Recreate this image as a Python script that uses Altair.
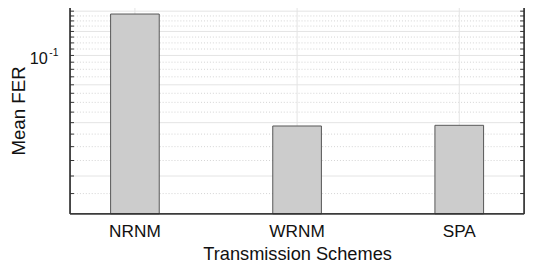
import altair as alt
import pandas as pd

# ---- data ----
schemes = ["NRNM", "WRNM", "SPA"]
mean_fer = [0.137, 0.0585, 0.0588]

major_ticks = [0.04, 0.06, 0.08, 0.10, 0.12, 0.14]
minor_ticks = [0.035, 0.045, 0.05, 0.055, 0.065, 0.07, 0.075, 0.085, 0.09, 0.095,
               0.105, 0.11, 0.115, 0.125, 0.13, 0.135, 0.145]
all_ticks = sorted(major_ticks + minor_ticks)
y_domain = [0.03, 0.15]
label_value = [0.1]
label_base = ["10"]
label_exp = ["-1"]

W, H = 461, 215
FONT = "Liberation Sans"
INK = "#111111"

bars_df = pd.DataFrame({"scheme": schemes, "fer": mean_fer})
major_df = pd.DataFrame({"v": major_ticks})
minor_df = pd.DataFrame({"v": minor_ticks})
ticks_df = pd.DataFrame({"v": all_ticks})
lab_df = pd.DataFrame({"v": label_value, "base": label_base, "exp": label_exp})

xscale = alt.Scale(domain=schemes, paddingInner=0.7, paddingOuter=0.25)
yscale = alt.Scale(type="log", domain=y_domain, nice=False, zero=False, clamp=True)

x_axis = alt.Axis(title="Transmission Schemes", labelAngle=0, ticks=False,
                  domain=False, grid=False, labelFontSize=17.5, bandPosition=0.5,
                  labelColor=INK, labelPadding=9, titleFontSize=18.5,
                  titleFontWeight="normal", titleColor=INK,
                  titlePadding=5, labelFont=FONT, titleFont=FONT)
y_axis = alt.Axis(title="Mean FER", labels=False, ticks=False, domain=False, grid=False,
                  titleFontSize=19, titleFontWeight="normal", titleColor=INK,
                  titleFont=FONT, titleX=-52.5, titleY=110, titleAngle=270,
                  titleAlign="center", titleBaseline="middle")


def X():
    return alt.X("scheme:N", scale=xscale, sort=schemes, axis=x_axis)


def Y(field):
    return alt.Y(field, scale=yscale, axis=y_axis)


minor_grid = alt.Chart(minor_df).mark_rule(color="#c8c8c8", strokeWidth=0.8,
                                           strokeDash=[1, 2]).encode(y=Y("v:Q"))
major_grid = alt.Chart(major_df).mark_rule(color="#e4e4e4", strokeWidth=1).encode(
    y=Y("v:Q"))
vgrid = alt.Chart(bars_df).mark_rule(color="#e4e4e4", strokeWidth=1).encode(x=X())

bars = alt.Chart(bars_df).mark_bar(fill="#cccccc", stroke="#555555",
                                   strokeWidth=1).encode(x=X(), y=Y("fer:Q"))

left_ticks = alt.Chart(ticks_df).mark_rule(color="#333333", strokeWidth=1).encode(
    y=Y("v:Q"), x=alt.value(0), x2=alt.value(4))
right_ticks = alt.Chart(ticks_df).mark_rule(color="#333333", strokeWidth=1).encode(
    y=Y("v:Q"), x=alt.value(W - 4), x2=alt.value(W))
top_ticks = alt.Chart(bars_df).mark_rule(color="#333333", strokeWidth=1).encode(
    x=X(), y=alt.value(0), y2=alt.value(4))

frame = alt.Chart(bars_df).mark_rect(fill=None, stroke="#333333",
                                     strokeWidth=1).encode(
    x=alt.value(0), x2=alt.value(W), y=alt.value(0), y2=alt.value(H))

base_txt = alt.Chart(lab_df).mark_text(font=FONT, fontSize=16.5, align="right",
                                       baseline="alphabetic", dx=-22.5, dy=8.7,
                                       color=INK).encode(
    y=Y("v:Q"), x=alt.value(0), text="base:N")
exp_txt = alt.Chart(lab_df).mark_text(font=FONT, fontSize=10.5, align="left",
                                      baseline="alphabetic", dx=-21, dy=1,
                                      color=INK).encode(
    y=Y("v:Q"), x=alt.value(0), text="exp:N")

chart = alt.layer(minor_grid, major_grid, vgrid, bars, left_ticks, right_ticks,
                  top_ticks, frame, base_txt, exp_txt).properties(
    width=W, height=H,
    background="white",
    autosize=alt.AutoSizeParams(type="none"),
    padding={"left": 63, "top": -8, "right": 8, "bottom": 55},
).configure_view(stroke=None)

chart.save("out.html", embed_options={"renderer": "svg", "actions": False})
